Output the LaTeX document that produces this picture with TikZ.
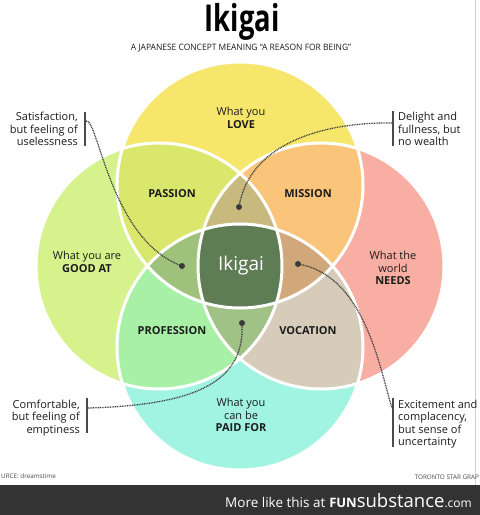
\documentclass[tikz,border=0pt]{standalone}
\usepackage{fontspec}
\setmainfont{Open Sans}
\definecolor{txt}{HTML}{1C1C1C}
\definecolor{barc}{HTML}{4A4A4A}
\definecolor{linkc}{HTML}{3A3A3A}
\definecolor{cY}{HTML}{F6E66B}
\definecolor{cG}{HTML}{D6F28C}
\definecolor{cR}{HTML}{F9AEA3}
\definecolor{cB}{HTML}{A2F4E2}
\definecolor{cYG}{HTML}{D9E86C}
\definecolor{cYR}{HTML}{FAC57A}
\definecolor{cGB}{HTML}{A8F0A6}
\definecolor{cRB}{HTML}{D6CCB9}
\definecolor{cYGR}{HTML}{C8B97F}
\definecolor{cYGB}{HTML}{9EC27C}
\definecolor{cYRB}{HTML}{D0A87B}
\definecolor{cGRB}{HTML}{A0C287}
\definecolor{cAll}{HTML}{5F7D55}
\definecolor{footer}{HTML}{333333}
\begin{document}
\begin{tikzpicture}[x=1pt,y=-1pt,
  lbl/.style={font=\fontsize{11}{12.5}\selectfont, text=txt, align=center, inner sep=0pt},
  region/.style={font=\bfseries\fontsize{11}{12}\selectfont, text=txt, inner sep=0pt},
  note/.style={font=\fontsize{11}{12.5}\selectfont, text=txt, inner sep=0pt},
  small/.style={font=\fontsize{6.3}{7}\selectfont, text=txt!80, inner sep=0pt},
  bar/.style={line width=2pt, draw=barc},
  link/.style={draw=linkc, line width=1.3pt, dash pattern=on 0.9pt off 0.8pt},
  dotn/.style={circle, fill=linkc, inner sep=0pt, minimum size=6pt},
  ring/.style={draw=white, line width=3pt}]
\useasboundingbox (0,0) rectangle (480,515);
\fill[white] (0,0) rectangle (480,515);
\def\rr{123pt}
\coordinate (Y) at (240,185);
\coordinate (G) at (159,266);
\coordinate (R) at (321,266);
\coordinate (B) at (240,347);
% single circles
\fill[cY] (Y) circle (\rr);
\fill[cG] (G) circle (\rr);
\fill[cR] (R) circle (\rr);
\fill[cB] (B) circle (\rr);
% pairs
\begin{scope}\clip (Y) circle (\rr); \fill[cYG] (G) circle (\rr); \fill[cYR] (R) circle (\rr);\end{scope}
\begin{scope}\clip (B) circle (\rr); \fill[cGB] (G) circle (\rr); \fill[cRB] (R) circle (\rr);\end{scope}
% triples
\begin{scope}\clip (Y) circle (\rr); \clip (G) circle (\rr); \fill[cYGR] (R) circle (\rr); \fill[cYGB] (B) circle (\rr);\end{scope}
\begin{scope}\clip (B) circle (\rr); \clip (R) circle (\rr); \fill[cYRB] (Y) circle (\rr); \fill[cGRB] (G) circle (\rr);\end{scope}
% all four
\begin{scope}\clip (Y) circle (\rr); \clip (G) circle (\rr); \clip (R) circle (\rr); \fill[cAll] (B) circle (\rr);\end{scope}
% white rings
\foreach \c in {Y,G,R,B} \draw[ring] (\c) circle (\rr);
% border line of the source image
\draw[gray!35, line width=0.6pt] (475,0) -- (475,485);
% titles
\node[inner sep=0pt, text=black] (title) at (242,22) {\fontsize{37}{37}\selectfont\bfseries\scalebox{0.74}[1]{Ikigai}};
\node[inner sep=0pt, text=txt, font=\fontsize{8.8}{9}\selectfont] (sub) at (241,48) {\scalebox{0.96}[1]{A JAPANESE CONCEPT MEANING ``A REASON FOR BEING''}};
% circle labels
\node[lbl] (love) at (241,118) {What you\\\textbf{LOVE}};
\node[lbl] (good) at (87,262) {What you are\\\textbf{GOOD AT}};
\node[lbl] (needs) at (393,268) {What the\\world\\\textbf{NEEDS}};
\node[lbl] (paid) at (241,415) {What you\\can be\\\textbf{PAID FOR}};
% region labels
\node[region] (passion) at (172,194) {PASSION};
\node[region] (mission) at (308,194) {MISSION};
\node[region] (profession) at (172,331) {PROFESSION};
\node[region] (vocation) at (308,331) {VOCATION};
\node[inner sep=0pt, text=white, font=\fontsize{19}{20}\selectfont] (ikigai) at (241,266) {Ikigai};
% callout notes
\node[note, align=right, anchor=east] (n1) at (78,129) {Satisfaction,\\but feeling of\\uselessness};
\node[note, align=left, anchor=west] (n2) at (398,129) {Delight and\\fullness, but\\no wealth};
\node[note, align=right, anchor=east] (n3) at (80,418) {Comfortable,\\but feeling of\\emptiness};
\node[note, align=left, anchor=west] (n4) at (398,424) {Excitement and\\complacency,\\but sense of\\uncertainty};
% bars
\draw[bar] (85,112) -- (85,146);
\draw[bar] (393,111) -- (393,146);
\draw[bar] (87,398) -- (87,433);
\draw[bar] (393,398) -- (393,447);
\coordinate (b1) at (86,121);
\coordinate (b2) at (392,123);
\coordinate (b3) at (88,408);
\coordinate (b4) at (392,408);
% dots
\node[dotn] (d1) at (182,266) {};
\node[dotn] (d2) at (239,207) {};
\node[dotn] (d3) at (242,323) {};
\node[dotn] (d4) at (298,264) {};
% connectors
\draw[link] (b1) .. controls (98,117) and (110,240) .. (d1.center);
\draw[link] (b2) .. controls (330,122) and (250,140) .. (d2.center);
\draw[link] (b3) .. controls (200,405) and (245,380) .. (d3.center);
\draw[link] (d4.center) .. controls (365,275) and (380,370) .. (b4);
% source notes (as printed, cut by the original frame)
\node[small, anchor=west] (src) at (1,476) {URCE: dreamstime};
\node[small, anchor=east] (tor) at (479,477) {TORONTO STAR GRAP};
% footer
\fill[footer] (0,485) rectangle (480,515);
\node[inner sep=0pt, anchor=base west, text=white] (more) at (225,507)
  {\fontsize{13.5}{14}\selectfont More like this at\hspace{4pt}{\fontsize{13}{14}\selectfont\bfseries FUN}{\fontsize{18.5}{18}\selectfont substance}{\fontsize{12}{14}\selectfont .com}};
\end{tikzpicture}
\end{document}
